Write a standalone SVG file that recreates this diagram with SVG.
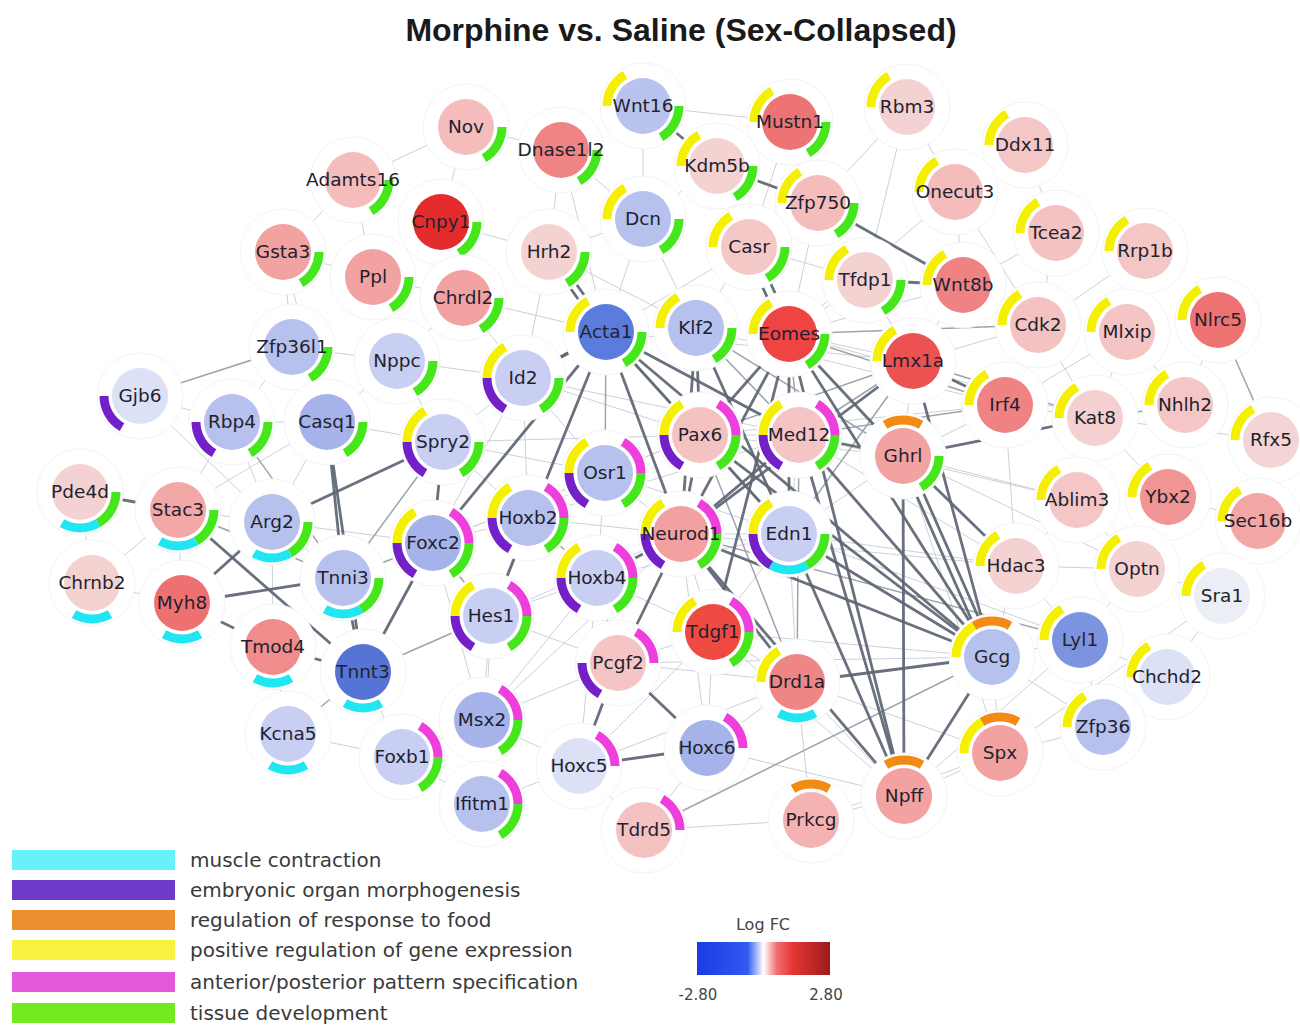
<svg xmlns="http://www.w3.org/2000/svg" xmlns:xlink="http://www.w3.org/1999/xlink" width="1300" height="1025" viewBox="0 0 1300 1025">
<style>
.lt line{stroke:#ccd0d8;stroke-width:1}
.md line{stroke:#9ea4ae;stroke-width:1.5}
.dk line{stroke:#5d6573;stroke-width:2.8;stroke-opacity:0.92}
.h{fill:#fff;stroke:#f2f3f6;stroke-width:1}
.nodes text{font-family:"DejaVu Sans","Liberation Sans",sans-serif;font-size:18.5px;fill:#22222e;text-anchor:middle}
.leg{font-family:"DejaVu Sans","Liberation Sans",sans-serif;font-size:20px;fill:#3a3a3a}
.arc{fill:none;stroke-width:9}
</style>
<defs>
<path id="or" class="arc" stroke="#f28a14" d="M -18 -31.18 A 36 36 0 0 1 18 -31.18"/>
<path id="mg" class="arc" stroke="#ee3edc" d="M 18 -31.18 A 36 36 0 0 1 36 0"/>
<path id="gr" class="arc" stroke="#46e61c" d="M 36 0 A 36 36 0 0 1 18 31.18"/>
<path id="cy" class="arc" stroke="#20e6f2" d="M 18 31.18 A 36 36 0 0 1 -18 31.18"/>
<path id="pu" class="arc" stroke="#7420c8" d="M -18 31.18 A 36 36 0 0 1 -36 0"/>
<path id="ye" class="arc" stroke="#f4f000" d="M -36 0 A 36 36 0 0 1 -18 -31.18"/>
<linearGradient id="fc" x1="0" y1="0" x2="1" y2="0">
<stop offset="0" stop-color="#1a3be2"/>
<stop offset="0.38" stop-color="#2f5af2"/>
<stop offset="0.5" stop-color="#ffffff"/>
<stop offset="0.6" stop-color="#f07070"/>
<stop offset="0.72" stop-color="#e63636"/>
<stop offset="1" stop-color="#9c1a1a"/>
</linearGradient>
</defs>
<rect width="1300" height="1025" fill="#fff"/>
<text x="681" y="41" font-family="'Liberation Sans',Arial,sans-serif" font-size="32" font-weight="bold" fill="#1a1a1a" text-anchor="middle">Morphine vs. Saline (Sex-Collapsed)</text>

<g id="connectors">
<g class="lt">
<line x1="466" y1="127" x2="353" y2="180"/><line x1="466" y1="127" x2="441" y2="222"/><line x1="466" y1="127" x2="561" y2="150"/>
<line x1="561" y1="150" x2="549" y2="252"/><line x1="561" y1="150" x2="643" y2="219"/><line x1="561" y1="150" x2="606" y2="332"/>
<line x1="643" y1="106" x2="643" y2="219"/><line x1="643" y1="106" x2="790" y2="122"/><line x1="790" y1="122" x2="749" y2="247"/>
<line x1="790" y1="122" x2="818" y2="203"/><line x1="790" y1="122" x2="717" y2="166"/><line x1="907" y1="107" x2="865" y2="280"/>
<line x1="907" y1="107" x2="955" y2="192"/><line x1="907" y1="107" x2="818" y2="203"/><line x1="1025" y1="145" x2="955" y2="192"/>
<line x1="1025" y1="145" x2="1056" y2="233"/><line x1="955" y1="192" x2="963" y2="285"/><line x1="955" y1="192" x2="1038" y2="325"/>
<line x1="955" y1="192" x2="789" y2="334"/><line x1="1056" y1="233" x2="1038" y2="325"/><line x1="1056" y1="233" x2="963" y2="285"/>
<line x1="1145" y1="251" x2="1127" y2="332"/><line x1="1145" y1="251" x2="1038" y2="325"/><line x1="717" y1="166" x2="749" y2="247"/>
<line x1="717" y1="166" x2="643" y2="219"/><line x1="643" y1="219" x2="606" y2="332"/><line x1="643" y1="219" x2="696" y2="328"/>
<line x1="643" y1="219" x2="549" y2="252"/><line x1="749" y1="247" x2="696" y2="328"/><line x1="749" y1="247" x2="865" y2="280"/>
<line x1="749" y1="247" x2="606" y2="332"/><line x1="818" y1="203" x2="789" y2="334"/><line x1="818" y1="203" x2="749" y2="247"/>
<line x1="865" y1="280" x2="789" y2="334"/><line x1="865" y1="280" x2="913" y2="361"/><line x1="963" y1="285" x2="913" y2="361"/>
<line x1="963" y1="285" x2="1038" y2="325"/><line x1="963" y1="285" x2="789" y2="334"/><line x1="1038" y1="325" x2="913" y2="361"/>
<line x1="1038" y1="325" x2="1005" y2="405"/><line x1="1038" y1="325" x2="1095" y2="418"/><line x1="1127" y1="332" x2="1095" y2="418"/>
<line x1="1127" y1="332" x2="1005" y2="405"/><line x1="1127" y1="332" x2="1185" y2="405"/><line x1="1218" y1="320" x2="1185" y2="405"/>
<line x1="441" y1="222" x2="549" y2="252"/><line x1="441" y1="222" x2="463" y2="298"/><line x1="441" y1="222" x2="373" y2="277"/>
<line x1="353" y1="180" x2="283" y2="252"/><line x1="353" y1="180" x2="373" y2="277"/><line x1="283" y1="252" x2="292" y2="347"/>
<line x1="283" y1="252" x2="373" y2="277"/><line x1="283" y1="252" x2="327" y2="422"/><line x1="373" y1="277" x2="397" y2="361"/>
<line x1="373" y1="277" x2="463" y2="298"/><line x1="463" y1="298" x2="523" y2="378"/><line x1="463" y1="298" x2="606" y2="332"/>
<line x1="463" y1="298" x2="397" y2="361"/><line x1="549" y1="252" x2="523" y2="378"/><line x1="549" y1="252" x2="696" y2="328"/>
<line x1="292" y1="347" x2="397" y2="361"/><line x1="292" y1="347" x2="232" y2="422"/>
<line x1="292" y1="347" x2="327" y2="422"/><line x1="397" y1="361" x2="523" y2="378"/><line x1="397" y1="361" x2="443" y2="442"/>
<line x1="397" y1="361" x2="327" y2="422"/><line x1="140" y1="396" x2="232" y2="422"/><line x1="140" y1="396" x2="272" y2="522"/>
<line x1="232" y1="422" x2="327" y2="422"/><line x1="232" y1="422" x2="272" y2="522"/><line x1="232" y1="422" x2="178" y2="510"/>
<line x1="327" y1="422" x2="443" y2="442"/><line x1="327" y1="422" x2="272" y2="522"/><line x1="327" y1="422" x2="178" y2="510"/>
<line x1="523" y1="378" x2="443" y2="442"/><line x1="523" y1="378" x2="605" y2="473"/><line x1="523" y1="378" x2="700" y2="435"/>
<line x1="523" y1="378" x2="433" y2="543"/><line x1="523" y1="378" x2="528" y2="518"/><line x1="443" y1="442" x2="605" y2="473"/>
<line x1="443" y1="442" x2="528" y2="518"/><line x1="443" y1="442" x2="433" y2="543"/>
<line x1="605" y1="473" x2="528" y2="518"/><line x1="605" y1="473" x2="700" y2="435"/><line x1="605" y1="473" x2="681" y2="534"/>
<line x1="605" y1="473" x2="597" y2="578"/><line x1="605" y1="473" x2="433" y2="543"/><line x1="528" y1="518" x2="433" y2="543"/>
<line x1="528" y1="518" x2="491" y2="616"/><line x1="528" y1="518" x2="681" y2="534"/>
<line x1="433" y1="543" x2="491" y2="616"/><line x1="433" y1="543" x2="482" y2="720"/>
<line x1="433" y1="543" x2="272" y2="522"/><line x1="491" y1="616" x2="597" y2="578"/><line x1="491" y1="616" x2="482" y2="720"/>
<line x1="491" y1="616" x2="618" y2="663"/><line x1="597" y1="578" x2="482" y2="720"/>
<line x1="597" y1="578" x2="713" y2="632"/><line x1="597" y1="578" x2="579" y2="766"/><line x1="681" y1="534" x2="713" y2="632"/>
<line x1="681" y1="534" x2="789" y2="534"/><line x1="681" y1="534" x2="707" y2="748"/><line x1="700" y1="435" x2="799" y2="435"/>
<line x1="799" y1="435" x2="789" y2="534"/><line x1="789" y1="534" x2="797" y2="682"/>
<line x1="789" y1="534" x2="713" y2="632"/><line x1="789" y1="534" x2="903" y2="456"/><line x1="789" y1="534" x2="1016" y2="566"/>
<line x1="903" y1="456" x2="913" y2="361"/><line x1="903" y1="456" x2="1005" y2="405"/><line x1="903" y1="456" x2="1077" y2="500"/>
<line x1="903" y1="456" x2="1000" y2="753"/><line x1="1005" y1="405" x2="1095" y2="418"/><line x1="1005" y1="405" x2="1016" y2="566"/>
<line x1="1095" y1="418" x2="1077" y2="500"/><line x1="1095" y1="418" x2="1168" y2="497"/><line x1="1095" y1="418" x2="1271" y2="440"/>
<line x1="1077" y1="500" x2="1016" y2="566"/><line x1="1077" y1="500" x2="1137" y2="569"/><line x1="1168" y1="497" x2="1137" y2="569"/>
<line x1="1168" y1="497" x2="1258" y2="521"/><line x1="1258" y1="521" x2="1222" y2="596"/><line x1="1137" y1="569" x2="1222" y2="596"/>
<line x1="1137" y1="569" x2="1080" y2="640"/><line x1="1137" y1="569" x2="1016" y2="566"/><line x1="1016" y1="566" x2="992" y2="657"/>
<line x1="1016" y1="566" x2="1080" y2="640"/><line x1="992" y1="657" x2="1080" y2="640"/><line x1="992" y1="657" x2="1000" y2="753"/>
<line x1="992" y1="657" x2="1103" y2="727"/><line x1="1080" y1="640" x2="1167" y2="677"/><line x1="1167" y1="677" x2="1222" y2="596"/>
<line x1="1103" y1="727" x2="1000" y2="753"/><line x1="1000" y1="753" x2="904" y2="796"/><line x1="1000" y1="753" x2="811" y2="820"/>
<line x1="904" y1="796" x2="811" y2="820"/><line x1="811" y1="820" x2="797" y2="682"/><line x1="811" y1="820" x2="644" y2="830"/>
<line x1="797" y1="682" x2="713" y2="632"/><line x1="797" y1="682" x2="707" y2="748"/><line x1="713" y1="632" x2="618" y2="663"/>
<line x1="713" y1="632" x2="707" y2="748"/><line x1="618" y1="663" x2="482" y2="720"/><line x1="579" y1="766" x2="482" y2="720"/>
<line x1="579" y1="766" x2="644" y2="830"/><line x1="579" y1="766" x2="482" y2="804"/><line x1="707" y1="748" x2="644" y2="830"/>
<line x1="482" y1="720" x2="402" y2="757"/><line x1="482" y1="720" x2="482" y2="804"/><line x1="402" y1="757" x2="363" y2="672"/>
<line x1="402" y1="757" x2="288" y2="734"/><line x1="288" y1="734" x2="273" y2="647"/>
<line x1="343" y1="578" x2="272" y2="522"/><line x1="178" y1="510" x2="182" y2="603"/>
<line x1="178" y1="510" x2="272" y2="522"/><line x1="92" y1="583" x2="182" y2="603"/><line x1="92" y1="583" x2="178" y2="510"/>
<line x1="80" y1="492" x2="92" y2="583"/><line x1="273" y1="647" x2="272" y2="522"/><line x1="482" y1="804" x2="402" y2="757"/>
<line x1="482" y1="804" x2="491" y2="616"/><line x1="1103" y1="727" x2="1167" y2="677"/><line x1="1103" y1="727" x2="1080" y2="640"/>
<line x1="904" y1="796" x2="797" y2="682"/><line x1="904" y1="796" x2="707" y2="748"/><line x1="992" y1="657" x2="713" y2="632"/>
<line x1="1000" y1="753" x2="797" y2="682"/><line x1="913" y1="361" x2="789" y2="334"/><line x1="799" y1="435" x2="1016" y2="566"/>
<line x1="700" y1="435" x2="903" y2="456"/><line x1="1222" y1="596" x2="1000" y2="753"/><line x1="1080" y1="640" x2="904" y2="796"/>
<line x1="618" y1="663" x2="797" y2="682"/><line x1="579" y1="766" x2="797" y2="682"/><line x1="482" y1="720" x2="681" y2="534"/>
<line x1="443" y1="442" x2="700" y2="435"/><line x1="523" y1="378" x2="799" y2="435"/><line x1="606" y1="332" x2="913" y2="361"/>
<line x1="696" y1="328" x2="1005" y2="405"/><line x1="789" y1="334" x2="1095" y2="418"/><line x1="799" y1="435" x2="1077" y2="500"/>
<line x1="903" y1="456" x2="1137" y2="569"/><line x1="789" y1="534" x2="1080" y2="640"/><line x1="681" y1="534" x2="1016" y2="566"/>
<line x1="528" y1="518" x2="799" y2="435"/><line x1="605" y1="473" x2="789" y2="534"/><line x1="597" y1="578" x2="789" y2="534"/>
<line x1="491" y1="616" x2="681" y2="534"/><line x1="433" y1="543" x2="700" y2="435"/><line x1="618" y1="663" x2="992" y2="657"/>
<line x1="713" y1="632" x2="904" y2="796"/><line x1="579" y1="766" x2="713" y2="632"/><line x1="700" y1="435" x2="1005" y2="405"/>
</g>
<g class="md">
<line x1="1218" y1="320" x2="1271" y2="440"/><line x1="644" y1="830" x2="992" y2="657"/><line x1="288" y1="734" x2="363" y2="672"/>
<line x1="292" y1="347" x2="140" y2="396"/><line x1="433" y1="543" x2="343" y2="578"/><line x1="443" y1="442" x2="343" y2="578"/>
<line x1="363" y1="672" x2="491" y2="616"/><line x1="528" y1="518" x2="597" y2="578"/><line x1="597" y1="578" x2="618" y2="663"/>
<line x1="696" y1="328" x2="799" y2="435"/><line x1="696" y1="328" x2="903" y2="456"/><line x1="606" y1="332" x2="700" y2="435"/>
<line x1="606" y1="332" x2="605" y2="473"/><line x1="789" y1="334" x2="799" y2="435"/><line x1="913" y1="361" x2="700" y2="435"/>
<line x1="913" y1="361" x2="799" y2="435"/><line x1="913" y1="361" x2="789" y2="534"/><line x1="1005" y1="405" x2="789" y2="334"/>
<line x1="1005" y1="405" x2="799" y2="435"/><line x1="700" y1="435" x2="789" y2="534"/><line x1="700" y1="435" x2="797" y2="682"/>
<line x1="799" y1="435" x2="797" y2="682"/><line x1="1095" y1="418" x2="913" y2="361"/><line x1="1038" y1="325" x2="789" y2="334"/>
<line x1="343" y1="578" x2="178" y2="510"/><line x1="232" y1="422" x2="343" y2="578"/><line x1="1185" y1="405" x2="1095" y2="418"/>
<line x1="491" y1="616" x2="433" y2="543"/><line x1="681" y1="534" x2="1080" y2="640"/>
</g>
<g class="dk">
<line x1="643" y1="106" x2="717" y2="166"/><line x1="717" y1="166" x2="818" y2="203"/><line x1="818" y1="203" x2="963" y2="285"/>
<line x1="865" y1="280" x2="963" y2="285"/>
<line x1="552" y1="250" x2="609" y2="330"/><line x1="546" y1="254" x2="603" y2="334"/>
<line x1="753" y1="245" x2="793" y2="332"/><line x1="745" y1="249" x2="785" y2="336"/>
<line x1="606" y1="332" x2="681" y2="534"/><line x1="606" y1="332" x2="433" y2="543"/><line x1="606" y1="332" x2="799" y2="435"/>
<line x1="606" y1="332" x2="992" y2="657"/><line x1="696" y1="328" x2="700" y2="435"/><line x1="696" y1="328" x2="789" y2="534"/>
<line x1="789" y1="334" x2="903" y2="456"/><line x1="789" y1="334" x2="992" y2="657"/><line x1="789" y1="334" x2="681" y2="534"/>
<line x1="789" y1="334" x2="700" y2="435"/><line x1="789" y1="334" x2="904" y2="796"/><line x1="913" y1="361" x2="681" y2="534"/>
<line x1="799" y1="435" x2="992" y2="657"/><line x1="799" y1="435" x2="904" y2="796"/><line x1="799" y1="435" x2="681" y2="534"/>
<line x1="700" y1="435" x2="681" y2="534"/><line x1="700" y1="435" x2="992" y2="657"/><line x1="789" y1="534" x2="992" y2="657"/>
<line x1="789" y1="534" x2="904" y2="796"/><line x1="681" y1="534" x2="992" y2="657"/><line x1="681" y1="534" x2="797" y2="682"/>
<line x1="681" y1="534" x2="904" y2="796"/><line x1="681" y1="534" x2="618" y2="663"/><line x1="681" y1="534" x2="597" y2="578"/>
<line x1="899" y1="456" x2="988" y2="657"/><line x1="907" y1="456" x2="996" y2="657"/><line x1="903" y1="456" x2="904" y2="796"/>
<line x1="903" y1="456" x2="1016" y2="566"/><line x1="903" y1="456" x2="1095" y2="418"/>
<line x1="797" y1="682" x2="992" y2="657"/><line x1="992" y1="657" x2="904" y2="796"/><line x1="618" y1="663" x2="707" y2="748"/>
<line x1="618" y1="663" x2="579" y2="766"/><line x1="579" y1="766" x2="707" y2="748"/><line x1="182" y1="603" x2="343" y2="578"/>
<line x1="182" y1="603" x2="273" y2="647"/><line x1="273" y1="647" x2="363" y2="672"/><line x1="343" y1="578" x2="363" y2="672"/>
<line x1="327" y1="422" x2="343" y2="578"/><line x1="327" y1="422" x2="363" y2="672"/><line x1="272" y1="522" x2="443" y2="442"/>
<line x1="272" y1="522" x2="182" y2="603"/><line x1="178" y1="510" x2="363" y2="672"/><line x1="363" y1="672" x2="433" y2="543"/>
<line x1="80" y1="492" x2="178" y2="510"/><line x1="520" y1="380" x2="603" y2="334"/><line x1="526" y1="376" x2="609" y2="330"/>
<line x1="1005" y1="405" x2="913" y2="361"/><line x1="696" y1="328" x2="681" y2="534"/><line x1="606" y1="332" x2="789" y2="534"/>
<line x1="789" y1="334" x2="789" y2="534"/><line x1="799" y1="435" x2="903" y2="456"/><line x1="913" y1="361" x2="992" y2="657"/>
<line x1="713" y1="632" x2="789" y2="334"/><line x1="443" y1="442" x2="433" y2="543"/><line x1="491" y1="616" x2="606" y2="332"/>
</g>
</g>

<g class="nodes">
<g id="n-Nov" transform="translate(466,127)"><circle class="h" r="43"/><use href="#gr"/><circle r="28" fill="#f5bcbc"/><text y="6">Nov</text></g>
<g id="n-Dnase1l2" transform="translate(561,150)"><circle class="h" r="43"/><use href="#gr"/><circle r="28" fill="#ef8484"/><text y="6">Dnase1l2</text></g>
<g id="n-Wnt16" transform="translate(643,106)"><circle class="h" r="43"/><use href="#ye"/><use href="#gr"/><circle r="28" fill="#b8c3ee"/><text y="6">Wnt16</text></g>
<g id="n-Mustn1" transform="translate(790,122)"><circle class="h" r="43"/><use href="#ye"/><use href="#gr"/><circle r="28" fill="#ec7474"/><text y="6">Mustn1</text></g>
<g id="n-Rbm3" transform="translate(907,107)"><circle class="h" r="43"/><use href="#ye"/><circle r="28" fill="#f4d2d2"/><text y="6">Rbm3</text></g>
<g id="n-Ddx11" transform="translate(1025,145)"><circle class="h" r="43"/><use href="#ye"/><circle r="28" fill="#f5c6c6"/><text y="6">Ddx11</text></g>
<g id="n-Adamts16" transform="translate(353,180)"><circle class="h" r="43"/><use href="#gr"/><circle r="28" fill="#f5bcbc"/><text y="6">Adamts16</text></g>
<g id="n-Kdm5b" transform="translate(717,166)"><circle class="h" r="43"/><use href="#ye"/><use href="#gr"/><circle r="28" fill="#f4d2d2"/><text y="6">Kdm5b</text></g>
<g id="n-Onecut3" transform="translate(955,192)"><circle class="h" r="43"/><use href="#ye"/><circle r="28" fill="#f5bcbc"/><text y="6">Onecut3</text></g>
<g id="n-Zfp750" transform="translate(818,203)"><circle class="h" r="43"/><use href="#ye"/><use href="#gr"/><circle r="28" fill="#f5bcbc"/><text y="6">Zfp750</text></g>
<g id="n-Dcn" transform="translate(643,219)"><circle class="h" r="43"/><use href="#ye"/><use href="#gr"/><circle r="28" fill="#b6c1ee"/><text y="6">Dcn</text></g>
<g id="n-Cnpy1" transform="translate(441,222)"><circle class="h" r="43"/><use href="#gr"/><circle r="28" fill="#e42c2c"/><text y="6">Cnpy1</text></g>
<g id="n-Gsta3" transform="translate(283,252)"><circle class="h" r="43"/><use href="#gr"/><circle r="28" fill="#f3a2a2"/><text y="6">Gsta3</text></g>
<g id="n-Ppl" transform="translate(373,277)"><circle class="h" r="43"/><use href="#gr"/><circle r="28" fill="#f3a2a2"/><text y="6">Ppl</text></g>
<g id="n-Hrh2" transform="translate(549,252)"><circle class="h" r="43"/><use href="#gr"/><circle r="28" fill="#f4d2d2"/><text y="6">Hrh2</text></g>
<g id="n-Casr" transform="translate(749,247)"><circle class="h" r="43"/><use href="#ye"/><use href="#gr"/><circle r="28" fill="#f5c8c8"/><text y="6">Casr</text></g>
<g id="n-Tcea2" transform="translate(1056,233)"><circle class="h" r="43"/><use href="#ye"/><circle r="28" fill="#f5c2c2"/><text y="6">Tcea2</text></g>
<g id="n-Rrp1b" transform="translate(1145,251)"><circle class="h" r="43"/><use href="#ye"/><circle r="28" fill="#f5c6c6"/><text y="6">Rrp1b</text></g>
<g id="n-Tfdp1" transform="translate(865,280)"><circle class="h" r="43"/><use href="#ye"/><use href="#gr"/><circle r="28" fill="#f4d2d2"/><text y="6">Tfdp1</text></g>
<g id="n-Wnt8b" transform="translate(963,285)"><circle class="h" r="43"/><use href="#ye"/><circle r="28" fill="#ef8282"/><text y="6">Wnt8b</text></g>
<g id="n-Chrdl2" transform="translate(463,298)"><circle class="h" r="43"/><use href="#gr"/><circle r="28" fill="#f3a2a2"/><text y="6">Chrdl2</text></g>
<g id="n-Acta1" transform="translate(606,332)"><circle class="h" r="43"/><use href="#ye"/><use href="#gr"/><circle r="28" fill="#5b7cdc"/><text y="6">Acta1</text></g>
<g id="n-Klf2" transform="translate(696,328)"><circle class="h" r="43"/><use href="#ye"/><use href="#gr"/><circle r="28" fill="#b6c1ee"/><text y="6">Klf2</text></g>
<g id="n-Eomes" transform="translate(789,334)"><circle class="h" r="43"/><use href="#ye"/><use href="#gr"/><circle r="28" fill="#ee4444"/><text y="6">Eomes</text></g>
<g id="n-Cdk2" transform="translate(1038,325)"><circle class="h" r="43"/><use href="#ye"/><circle r="28" fill="#f5c2c2"/><text y="6">Cdk2</text></g>
<g id="n-Mlxip" transform="translate(1127,332)"><circle class="h" r="43"/><use href="#ye"/><circle r="28" fill="#f5c4c4"/><text y="6">Mlxip</text></g>
<g id="n-Nlrc5" transform="translate(1218,320)"><circle class="h" r="43"/><use href="#ye"/><circle r="28" fill="#ee7272"/><text y="6">Nlrc5</text></g>
<g id="n-Zfp36l1" transform="translate(292,347)"><circle class="h" r="43"/><use href="#gr"/><circle r="28" fill="#b6c1ee"/><text y="6">Zfp36l1</text></g>
<g id="n-Nppc" transform="translate(397,361)"><circle class="h" r="43"/><use href="#gr"/><circle r="28" fill="#c8cff2"/><text y="6">Nppc</text></g>
<g id="n-Lmx1a" transform="translate(913,361)"><circle class="h" r="43"/><use href="#ye"/><circle r="28" fill="#ec5252"/><text y="6">Lmx1a</text></g>
<g id="n-Id2" transform="translate(523,378)"><circle class="h" r="43"/><use href="#ye"/><use href="#pu"/><use href="#gr"/><circle r="28" fill="#c8cff2"/><text y="6">Id2</text></g>
<g id="n-Gjb6" transform="translate(140,396)"><circle class="h" r="43"/><use href="#pu"/><circle r="28" fill="#dde1f5"/><text y="6">Gjb6</text></g>
<g id="n-Rbp4" transform="translate(232,422)"><circle class="h" r="43"/><use href="#pu"/><use href="#gr"/><circle r="28" fill="#b6c1ee"/><text y="6">Rbp4</text></g>
<g id="n-Casq1" transform="translate(327,422)"><circle class="h" r="43"/><use href="#gr"/><circle r="28" fill="#a6b3ea"/><text y="6">Casq1</text></g>
<g id="n-Irf4" transform="translate(1005,405)"><circle class="h" r="43"/><use href="#ye"/><circle r="28" fill="#ef8282"/><text y="6">Irf4</text></g>
<g id="n-Kat8" transform="translate(1095,418)"><circle class="h" r="43"/><use href="#ye"/><circle r="28" fill="#f4d0d0"/><text y="6">Kat8</text></g>
<g id="n-Nhlh2" transform="translate(1185,405)"><circle class="h" r="43"/><use href="#ye"/><circle r="28" fill="#f5c6c6"/><text y="6">Nhlh2</text></g>
<g id="n-Rfx5" transform="translate(1271,440)"><circle class="h" r="43"/><use href="#ye"/><circle r="28" fill="#f4d4d4"/><text y="6">Rfx5</text></g>
<g id="n-Spry2" transform="translate(443,442)"><circle class="h" r="43"/><use href="#ye"/><use href="#pu"/><use href="#gr"/><circle r="28" fill="#c8cff2"/><text y="6">Spry2</text></g>
<g id="n-Pax6" transform="translate(700,435)"><circle class="h" r="43"/><use href="#ye"/><use href="#mg"/><use href="#pu"/><use href="#gr"/><circle r="28" fill="#f5c2c2"/><text y="6">Pax6</text></g>
<g id="n-Med12" transform="translate(799,435)"><circle class="h" r="43"/><use href="#ye"/><use href="#mg"/><use href="#pu"/><use href="#gr"/><circle r="28" fill="#f5c4c4"/><text y="6">Med12</text></g>
<g id="n-Ghrl" transform="translate(903,456)"><circle class="h" r="43"/><use href="#or"/><use href="#gr"/><circle r="28" fill="#f3a2a2"/><text y="6">Ghrl</text></g>
<g id="n-Osr1" transform="translate(605,473)"><circle class="h" r="43"/><use href="#ye"/><use href="#mg"/><use href="#pu"/><use href="#gr"/><circle r="28" fill="#b6c1ee"/><text y="6">Osr1</text></g>
<g id="n-Pde4d" transform="translate(80,492)"><circle class="h" r="43"/><use href="#gr"/><use href="#cy"/><circle r="28" fill="#f4d2d2"/><text y="6">Pde4d</text></g>
<g id="n-Stac3" transform="translate(178,510)"><circle class="h" r="43"/><use href="#gr"/><use href="#cy"/><circle r="28" fill="#f3a8a8"/><text y="6">Stac3</text></g>
<g id="n-Arg2" transform="translate(272,522)"><circle class="h" r="43"/><use href="#gr"/><use href="#cy"/><circle r="28" fill="#b6c1ee"/><text y="6">Arg2</text></g>
<g id="n-Ablim3" transform="translate(1077,500)"><circle class="h" r="43"/><use href="#ye"/><circle r="28" fill="#f5c6c6"/><text y="6">Ablim3</text></g>
<g id="n-Ybx2" transform="translate(1168,497)"><circle class="h" r="43"/><use href="#ye"/><circle r="28" fill="#f09494"/><text y="6">Ybx2</text></g>
<g id="n-Sec16b" transform="translate(1258,521)"><circle class="h" r="43"/><use href="#ye"/><circle r="28" fill="#f3a6a6"/><text y="6">Sec16b</text></g>
<g id="n-Hoxb2" transform="translate(528,518)"><circle class="h" r="43"/><use href="#ye"/><use href="#mg"/><use href="#pu"/><use href="#gr"/><circle r="28" fill="#b6c1ee"/><text y="6">Hoxb2</text></g>
<g id="n-Foxc2" transform="translate(433,543)"><circle class="h" r="43"/><use href="#ye"/><use href="#mg"/><use href="#pu"/><use href="#gr"/><circle r="28" fill="#a6b3ea"/><text y="6">Foxc2</text></g>
<g id="n-Neurod1" transform="translate(681,534)"><circle class="h" r="43"/><use href="#ye"/><use href="#mg"/><use href="#pu"/><use href="#gr"/><circle r="28" fill="#f2a0a0"/><text y="6">Neurod1</text></g>
<g id="n-Edn1" transform="translate(789,534)"><circle class="h" r="43"/><use href="#ye"/><use href="#pu"/><use href="#cy"/><use href="#gr"/><circle r="28" fill="#c8cff2"/><text y="6">Edn1</text></g>
<g id="n-Hdac3" transform="translate(1016,566)"><circle class="h" r="43"/><use href="#ye"/><circle r="28" fill="#f4d2d2"/><text y="6">Hdac3</text></g>
<g id="n-Optn" transform="translate(1137,569)"><circle class="h" r="43"/><use href="#ye"/><circle r="28" fill="#f4d2d2"/><text y="6">Optn</text></g>
<g id="n-Sra1" transform="translate(1222,596)"><circle class="h" r="43"/><use href="#ye"/><circle r="28" fill="#eceef5"/><text y="6">Sra1</text></g>
<g id="n-Chrnb2" transform="translate(92,583)"><circle class="h" r="43"/><use href="#cy"/><circle r="28" fill="#f4d2d2"/><text y="6">Chrnb2</text></g>
<g id="n-Myh8" transform="translate(182,603)"><circle class="h" r="43"/><use href="#cy"/><circle r="28" fill="#ee7070"/><text y="6">Myh8</text></g>
<g id="n-Tnni3" transform="translate(343,578)"><circle class="h" r="43"/><use href="#gr"/><use href="#cy"/><circle r="28" fill="#b6c1ee"/><text y="6">Tnni3</text></g>
<g id="n-Hoxb4" transform="translate(597,578)"><circle class="h" r="43"/><use href="#ye"/><use href="#mg"/><use href="#pu"/><use href="#gr"/><circle r="28" fill="#c8cff2"/><text y="6">Hoxb4</text></g>
<g id="n-Hes1" transform="translate(491,616)"><circle class="h" r="43"/><use href="#ye"/><use href="#mg"/><use href="#pu"/><use href="#gr"/><circle r="28" fill="#c8cff2"/><text y="6">Hes1</text></g>
<g id="n-Tdgf1" transform="translate(713,632)"><circle class="h" r="43"/><use href="#ye"/><use href="#mg"/><use href="#gr"/><circle r="28" fill="#ee4a42"/><text y="6">Tdgf1</text></g>
<g id="n-Tmod4" transform="translate(273,647)"><circle class="h" r="43"/><use href="#cy"/><circle r="28" fill="#f08c8c"/><text y="6">Tmod4</text></g>
<g id="n-Tnnt3" transform="translate(363,672)"><circle class="h" r="43"/><use href="#cy"/><circle r="28" fill="#5574d6"/><text y="6">Tnnt3</text></g>
<g id="n-Pcgf2" transform="translate(618,663)"><circle class="h" r="43"/><use href="#mg"/><use href="#pu"/><circle r="28" fill="#f5c4c4"/><text y="6">Pcgf2</text></g>
<g id="n-Drd1a" transform="translate(797,682)"><circle class="h" r="43"/><use href="#ye"/><use href="#cy"/><circle r="28" fill="#ef8686"/><text y="6">Drd1a</text></g>
<g id="n-Gcg" transform="translate(992,657)"><circle class="h" r="43"/><use href="#or"/><use href="#ye"/><circle r="28" fill="#b6c1ee"/><text y="6">Gcg</text></g>
<g id="n-Lyl1" transform="translate(1080,640)"><circle class="h" r="43"/><use href="#ye"/><circle r="28" fill="#7c94e0"/><text y="6">Lyl1</text></g>
<g id="n-Chchd2" transform="translate(1167,677)"><circle class="h" r="43"/><use href="#ye"/><circle r="28" fill="#dde1f5"/><text y="6">Chchd2</text></g>
<g id="n-Kcna5" transform="translate(288,734)"><circle class="h" r="43"/><use href="#cy"/><circle r="28" fill="#c8cff2"/><text y="6">Kcna5</text></g>
<g id="n-Msx2" transform="translate(482,720)"><circle class="h" r="43"/><use href="#mg"/><use href="#gr"/><circle r="28" fill="#a6b3ea"/><text y="6">Msx2</text></g>
<g id="n-Foxb1" transform="translate(402,757)"><circle class="h" r="43"/><use href="#mg"/><use href="#gr"/><circle r="28" fill="#c8cff2"/><text y="6">Foxb1</text></g>
<g id="n-Hoxc5" transform="translate(579,766)"><circle class="h" r="43"/><use href="#mg"/><circle r="28" fill="#dde1f5"/><text y="6">Hoxc5</text></g>
<g id="n-Hoxc6" transform="translate(707,748)"><circle class="h" r="43"/><use href="#mg"/><circle r="28" fill="#a6b3ea"/><text y="6">Hoxc6</text></g>
<g id="n-Zfp36" transform="translate(1103,727)"><circle class="h" r="43"/><use href="#ye"/><circle r="28" fill="#b6c1ee"/><text y="6">Zfp36</text></g>
<g id="n-Spx" transform="translate(1000,753)"><circle class="h" r="43"/><use href="#or"/><use href="#ye"/><circle r="28" fill="#f3a2a2"/><text y="6">Spx</text></g>
<g id="n-Npff" transform="translate(904,796)"><circle class="h" r="43"/><use href="#or"/><circle r="28" fill="#f3a2a2"/><text y="6">Npff</text></g>
<g id="n-Prkcg" transform="translate(811,820)"><circle class="h" r="43"/><use href="#or"/><circle r="28" fill="#f4b2b2"/><text y="6">Prkcg</text></g>
<g id="n-Tdrd5" transform="translate(644,830)"><circle class="h" r="43"/><use href="#mg"/><circle r="28" fill="#f5c2c2"/><text y="6">Tdrd5</text></g>
<g id="n-Ifitm1" transform="translate(482,804)"><circle class="h" r="43"/><use href="#mg"/><use href="#gr"/><circle r="28" fill="#b6c1ee"/><text y="6">Ifitm1</text></g>
</g>

<g id="legend">
<rect x="12" y="850" width="163" height="20" fill="#66f2f8"/>
<rect x="12" y="880" width="163" height="20" fill="#6e3ac8"/>
<rect x="12" y="910" width="163" height="20" fill="#ea9030"/>
<rect x="12" y="940" width="163" height="20" fill="#f8f240"/>
<rect x="12" y="972" width="163" height="20" fill="#e258d8"/>
<rect x="12" y="1003" width="163" height="20" fill="#74e820"/>
<text class="leg" x="190" y="867">muscle contraction</text>
<text class="leg" x="190" y="897">embryonic organ morphogenesis</text>
<text class="leg" x="190" y="927">regulation of response to food</text>
<text class="leg" x="190" y="957">positive regulation of gene expression</text>
<text class="leg" x="190" y="989">anterior/posterior pattern specification</text>
<text class="leg" x="190" y="1020">tissue development</text>
</g>
<g id="colorbar">
<text x="763" y="930" font-family="'DejaVu Sans',sans-serif" font-size="16" fill="#444" text-anchor="middle">Log FC</text>
<rect x="697" y="942" width="133" height="33" fill="url(#fc)"/>
<text x="698" y="1000" font-family="'DejaVu Sans',sans-serif" font-size="15" fill="#444" text-anchor="middle">-2.80</text>
<text x="826" y="1000" font-family="'DejaVu Sans',sans-serif" font-size="15" fill="#444" text-anchor="middle">2.80</text>
</g>
</svg>
